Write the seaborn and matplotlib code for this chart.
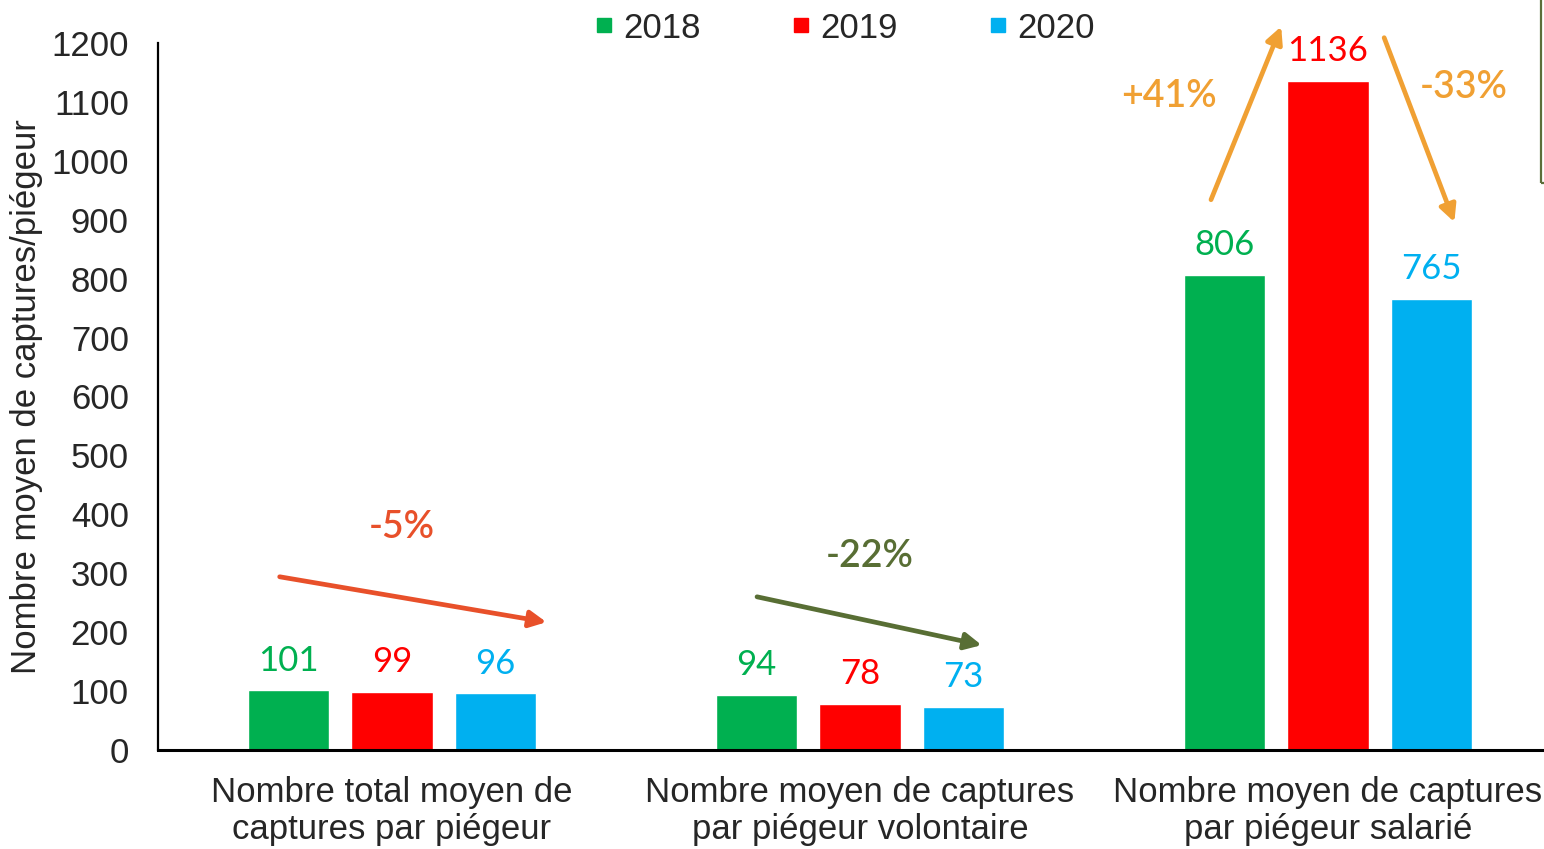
import matplotlib
matplotlib.use("Agg")
import matplotlib.pyplot as plt
from matplotlib.lines import Line2D
from matplotlib.patches import Rectangle
import seaborn as sns
import pandas as pd

# Data
categories = [
    "Nombre total moyen de\ncaptures par piégeur",
    "Nombre moyen de captures\npar piégeur volontaire",
    "Nombre moyen de captures\npar piégeur salarié",
]
years = ["2018", "2019", "2020"]
values_2018 = [101, 94, 806]
values_2019 = [99, 78, 1136]
values_2020 = [96, 73, 765]
year_colors = ["#00B050", "#FF0000", "#00B0F0"]
y_ticks = [0, 100, 200, 300, 400, 500, 600, 700, 800, 900, 1000, 1100, 1200]
y_label = "Nombre moyen de captures/piégeur"

# Trend annotations: text, colour, arrow start (category pos, value), arrow end, text position
trends = [
    ("-5%", "#E8502A", (-0.24, 294), (0.33, 217), (0.02, 378)),
    ("-22%", "#586E34", (0.78, 260), (1.26, 178), (1.02, 329)),
    ("+41%", "#F0A033", (1.75, 934), (1.90, 1228), (1.66, 1109)),
    ("-33%", "#F0A033", (2.12, 1209), (2.27, 896), (2.29, 1124)),
]

df = pd.DataFrame({
    "categorie": categories * 3,
    "annee": [years[0]] * 3 + [years[1]] * 3 + [years[2]] * 3,
    "valeur": values_2018 + values_2019 + values_2020,
})

sns.set_style("white")
plt.rcParams["font.family"] = ["Liberation Sans", "DejaVu Sans"]

W, H = 1544, 849
fig = plt.figure(figsize=(W / 100, H / 100), dpi=100)
ax = fig.add_axes([158 / W, 99 / H, (1562 - 158) / W, 707 / H])

sns.barplot(
    data=df, x="categorie", y="valeur", hue="annee",
    palette=year_colors, saturation=1, width=0.663, gap=0.21,
    legend=False, ax=ax,
)

ax.set_xlim(-0.5, 2.5)
ax.set_ylim(0, 1200)
ax.set_yticks(y_ticks)
ax.set_xlabel("")
ax.set_ylabel(y_label, fontsize=25, labelpad=6)
ax.tick_params(axis="y", length=0, pad=21, labelsize=25)
ax.tick_params(axis="x", length=0, pad=19, labelsize=25)
for lab in ax.get_xticklabels():
    lab.set_linespacing(1.12)

sns.despine(ax=ax)
ax.spines["left"].set_linewidth(1.6)
ax.spines["bottom"].set_linewidth(2.2)
ax.spines["left"].set_color("black")
ax.spines["bottom"].set_color("black")

# Value labels above bars
for container, col in zip(ax.containers, year_colors):
    ax.bar_label(container, color=col, fontsize=25, padding=10,
                 family=["Lato", "DejaVu Sans"])

# Trend arrows and percentages
for txt, col, start, end, tpos in trends:
    ax.annotate("", xy=end, xytext=start, annotation_clip=False,
                arrowprops=dict(arrowstyle="-|>", color=col, lw=3.4,
                                mutation_scale=25, shrinkA=0, shrinkB=0,
                                capstyle="round"))
    ax.text(tpos[0], tpos[1], txt, color=col, fontsize=27, fontweight="semibold",
            ha="center", va="center", clip_on=False,
            family=["Lato", "DejaVu Sans"])

# Legend across the top
handles = [Line2D([], [], marker="s", linestyle="none", markersize=9.5,
                  markerfacecolor=c, markeredgecolor=c) for c in year_colors]
fig.legend(handles, years, loc="center", ncol=3, frameon=False, fontsize=25,
           bbox_to_anchor=(845 / W, 1 - 28 / H), handlelength=0.5,
           handletextpad=0.3, columnspacing=2.65, borderaxespad=0)

# Frame edge of the neighbouring panel
fig.patches.append(Rectangle((1541 / W, 1 - 183 / H), 0.05, 0.4,
                             transform=fig.transFigure, fill=False,
                             edgecolor="#5B6E3A", linewidth=1.6))

fig.savefig("out.png", dpi=100)
